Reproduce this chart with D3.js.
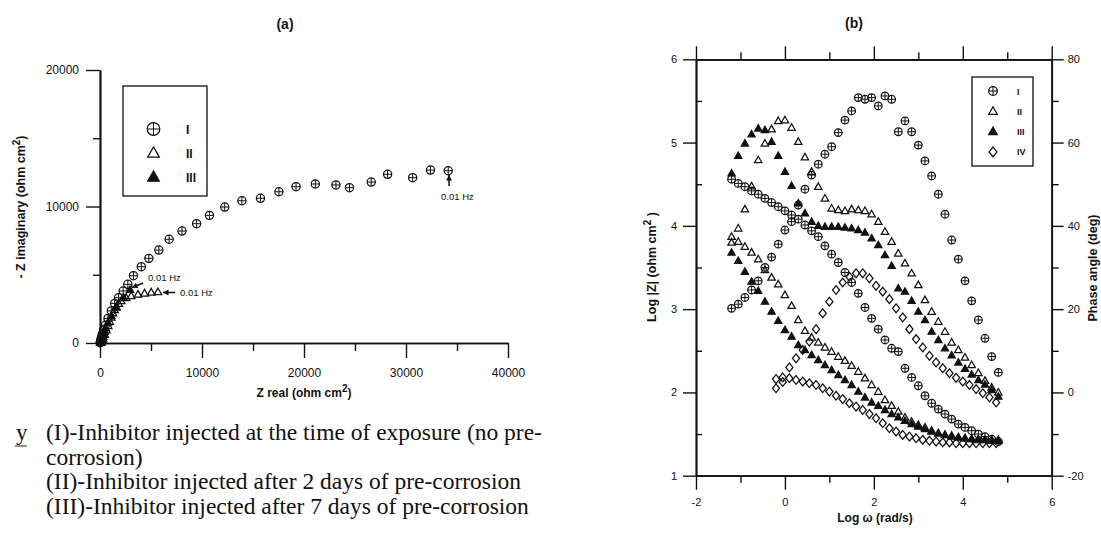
<!DOCTYPE html>
<html><head><meta charset="utf-8">
<script src="https://cdn.jsdelivr.net/npm/d3@7"></script>
<style>
body{margin:0;background:#fff}
svg{display:block}
text{fill:#111}
</style></head><body>
<svg id="c" width="1101" height="549" style="font-family:'Liberation Sans',Arial,sans-serif"></svg>
<script>
// ---------- Panel (a): Nyquist data [Z real, -Z imaginary] (ohm cm2) ----------
const nyqI = [[30,25],[40,60],[55,120],[80,210],[120,330],[170,480],[240,680],[350,950],[520,1300],[790,1800],[1110,2350],[1440,2900],[1820,3320],[2270,3810],[2730,4300],[3280,4930],[4050,5590],[4790,6200],[5770,6810],[6780,7600],[8040,8200],[9470,8740],[10730,9350],[12230,9960],[13910,10420],[15730,10600],[17540,11080],[19220,11450],[21110,11650],[23130,11580],[24460,11380],[26590,11790],[28200,12360],[30650,12110],[32400,12670],[34140,12620]];
const nyqII = [[37,18],[45,30],[60,45],[80,70],[110,105],[150,150],[200,200],[290,340],[450,640],[620,950],[800,1260],[950,1560],[1100,1870],[1270,2180],[1430,2420],[1600,2660],[1840,2880],[2080,3080],[2570,3300],[3060,3450],[3720,3560],[4370,3640],[5020,3710],[5680,3740]];
const nyqIII = [[36,12],[45,22],[60,45],[95,75],[125,100],[165,135],[210,185],[260,270],[330,450],[380,600],[450,820],[560,1100],[780,1500],[1100,2000],[1600,2600],[2300,3350],[2950,3900]];
const nyqXTicks = [0,10000,20000,30000,40000];
const nyqXMinor = [5000,15000,25000,35000];
const nyqYTicks = [0,10000,20000];
const nyqYMinor = [5000,15000];
const nyqLegend = ["I","II","III"];

// ---------- Panel (b): Bode data ----------
const logW = [-1.2,-1.05,-0.9,-0.75,-0.6,-0.45,-0.3,-0.15,0,0.15,0.3,0.45,0.6,0.75,0.9,1.05,1.2,1.35,1.5,1.65,1.8,1.95,2.1,2.25,2.4,2.55,2.7,2.85,3.0,3.15,3.3,3.45,3.6,3.75,3.9,4.05,4.2,4.35,4.5,4.65,4.8];
const logZ_I = [4.56,4.51,4.47,4.42,4.38,4.33,4.28,4.23,4.18,4.13,4.08,4.01,3.94,3.87,3.76,3.66,3.56,3.44,3.32,3.19,3.02,2.89,2.76,2.63,2.53,2.49,2.29,2.18,2.08,1.96,1.87,1.80,1.74,1.68,1.62,1.58,1.54,1.50,1.47,1.44,1.41];
const phase_I = [20.2,21.2,22.8,24.6,26.8,30.0,32.5,35.6,39.0,41.0,45.0,48.8,52.2,54.8,57.2,59.0,62.4,65.4,67.6,70.8,70.4,70.8,68.8,71.2,70.4,62.6,65.2,62.6,59.4,55.6,52.0,47.6,42.8,36.6,32.0,26.8,22.0,17.4,13.0,8.6,4.8];
const logZ_II = [3.87,3.81,3.75,3.68,3.60,3.47,3.38,3.30,3.17,3.04,2.87,2.74,2.66,2.60,2.54,2.49,2.43,2.38,2.32,2.25,2.17,2.09,2.01,1.91,1.84,1.77,1.70,1.65,1.61,1.58,1.54,1.51,1.49,1.48,1.46,1.45,1.44,1.43,1.43,1.42,1.42];
const phase_II = [36.0,39.4,44.0,49.5,55.8,59.8,63.2,65.2,65.4,63.6,60.2,56.5,53.0,49.4,46.6,44.2,43.8,43.6,44.0,43.8,43.6,42.8,41.0,38.6,36.2,33.4,31.0,28.6,25.8,22.2,19.4,17.0,14.6,12.0,10.2,8.4,6.6,4.7,2.8,1.2,0.0];
const logZ_III = [3.68,3.58,3.45,3.33,3.22,3.09,2.97,2.86,2.75,2.67,2.57,2.51,2.45,2.39,2.33,2.27,2.21,2.15,2.09,2.01,1.94,1.88,1.84,1.79,1.74,1.70,1.66,1.62,1.59,1.56,1.53,1.51,1.49,1.47,1.46,1.45,1.44,1.44,1.43,1.43,1.43];
const phase_III = [52.6,56.8,59.8,62.0,63.4,63.0,60.2,56.8,53.0,49.6,45.4,43.0,41.0,40.0,39.8,39.8,39.8,39.6,39.4,39.0,38.4,37.0,35.4,33.0,30.4,25.0,24.2,22.0,19.4,17.4,14.6,12.6,10.6,8.9,7.2,5.7,4.3,3.0,1.9,0.6,-1.0];
const logW_IV = [-0.2,-0.05,0.1,0.25,0.4,0.55,0.7,0.85,1.0,1.15,1.3,1.45,1.6,1.75,1.9,2.05,2.2,2.35,2.5,2.65,2.8,2.95,3.1,3.25,3.4,3.55,3.7,3.85,4.0,4.15,4.3,4.45,4.6,4.75];
const logZ_IV = [2.16,2.18,2.17,2.15,2.13,2.11,2.09,2.05,2.01,1.96,1.92,1.87,1.83,1.79,1.74,1.69,1.63,1.57,1.53,1.49,1.47,1.45,1.43,1.42,1.41,1.40,1.40,1.39,1.39,1.39,1.39,1.39,1.39,1.39];
const phase_IV = [1.0,2.5,6.0,8.2,10.2,12.2,15.2,19.0,21.8,24.6,26.4,27.8,28.6,28.6,27.4,25.6,24.2,22.4,20.2,18.0,15.2,12.8,10.8,8.8,7.2,5.8,4.6,3.5,2.6,1.8,0.8,-0.2,-1.2,-2.4];
const bodeXTicks = [-2,0,2,4,6];
const bodeXMinor = [-1,1,3,5];
const bodeZTicks = [1,2,3,4,5,6];
const bodeZMinor = [1.5,2.5,3.5,4.5,5.5];
const bodePTicks = [-20,0,20,40,60,80];
const bodePMinor = [-10,10,30,50,70];
const bodeLegend = ["I","II","III","IV"];

const keyLines = [
  "(I)-Inhibitor injected at the time of exposure (no pre-",
  "corrosion)",
  "(II)-Inhibitor injected after 2 days of pre-corrosion",
  "(III)-Inhibitor injected after 7 days of pre-corrosion"
];

const svg = d3.select("#c");
const INK = "#111";
const SANS = "'Liberation Sans', Arial, sans-serif";
const SERIF = "'Liberation Serif', 'Times New Roman', serif";

// ---------- marker helper ----------
function marker(sel, type, r){
  sel.each(function(){
    const g = d3.select(this);
    if(type==="cplus"){
      g.append("circle").attr("r",r).attr("fill","none").attr("stroke",INK).attr("stroke-width",1.25);
      g.append("line").attr("x1",-r).attr("x2",r).attr("stroke",INK).attr("stroke-width",1);
      g.append("line").attr("y1",-r).attr("y2",r).attr("stroke",INK).attr("stroke-width",1);
    } else if(type==="tri"||type==="trif"){
      const h=r*1.05;
      g.append("path").attr("d",`M0,${-h}L${r},${r*0.72}L${-r},${r*0.72}Z`)
        .attr("fill",type==="trif"?INK:"none").attr("stroke",INK).attr("stroke-width",1.25).attr("stroke-linejoin","miter");
    } else if(type==="dia"){
      g.append("path").attr("d",`M0,${-r*1.12}L${r*0.92},0L0,${r*1.12}L${-r*0.92},0Z`)
        .attr("fill","none").attr("stroke",INK).attr("stroke-width",1.25);
    }
  });
}
function series(g, xs, ys, sx, sy, type, r){
  const pts = xs.map((x,i)=>({x, y: ys[i]}));
  g.append("g").selectAll("g").data(pts).join("g")
    .attr("transform",d=>`translate(${sx(d.x)},${sy(d.y)})`)
    .call(marker,type,r);
}
function styleAxis(g, fs){
  g.select(".domain").attr("stroke",INK).attr("stroke-width",1.7);
  g.selectAll(".tick line").attr("stroke",INK).attr("stroke-width",1.4);
  g.selectAll(".tick text").attr("fill",INK).style("font-size",fs+"px").style("font-family",SANS);
}

// ================= Panel (a) =================
const xA = d3.scaleLinear().domain([0,40000]).range([100,508]);
const yA = d3.scaleLinear().domain([0,20000]).range([343,70]);
const gA = svg.append("g");

gA.append("g").attr("transform",`translate(0,${yA(0)})`)
  .call(d3.axisBottom(xA).tickValues(nyqXMinor).tickSize(8).tickFormat("").tickSizeOuter(0))
  .call(g=>styleAxis(g,12));
gA.append("g").attr("transform",`translate(0,${yA(0)})`)
  .call(d3.axisBottom(xA).tickValues(nyqXTicks).tickSize(15).tickPadding(10).tickFormat(d3.format("d")).tickSizeOuter(0))
  .call(g=>styleAxis(g,12));
gA.append("g").attr("transform",`translate(${xA(0)},0)`)
  .call(d3.axisLeft(yA).tickValues(nyqYMinor).tickSize(7).tickFormat("").tickSizeOuter(0))
  .call(g=>styleAxis(g,12));
gA.append("g").attr("transform",`translate(${xA(0)},0)`)
  .call(d3.axisLeft(yA).tickValues(nyqYTicks).tickSize(14).tickPadding(7).tickFormat(d3.format("d")).tickSizeOuter(0))
  .call(g=>styleAxis(g,12));

// data (III under II under I)
const nA = (arr,i)=>arr.map(p=>p[i]);
series(gA, nA(nyqIII,0), nA(nyqIII,1), xA, yA, "trif", 3.6);
series(gA, nA(nyqII,0), nA(nyqII,1), xA, yA, "tri", 3.8);
series(gA, nA(nyqI,0), nA(nyqI,1), xA, yA, "cplus", 4.1);

// legend (a)
gA.append("rect").attr("x",123).attr("y",86).attr("width",84).attr("height",110)
  .attr("fill","none").attr("stroke",INK).attr("stroke-width",1.3);
const legTypesA = ["cplus","tri","trif"];
nyqLegend.forEach((lab,i)=>{
  const y = 129 + i*24;
  gA.append("g").attr("transform",`translate(153.5,${y})`).call(marker,legTypesA[i],i===0?6.3:5.8);
  gA.append("text").attr("x",186).attr("y",y+4.5).style("font-size","12px").attr("font-weight","bold")
    .style("font-family","'Liberation Sans Narrow','Liberation Sans',sans-serif").text(lab);
});

// annotations "0.01 Hz"
function arrow(g,x1,y1,x2,y2){
  g.append("line").attr("x1",x1).attr("y1",y1).attr("x2",x2).attr("y2",y2).attr("stroke",INK).attr("stroke-width",1.5);
  const a=Math.atan2(y2-y1,x2-x1), L=5.5, W=3;
  const p=[[x2,y2],[x2-L*Math.cos(a)+W*Math.sin(a), y2-L*Math.sin(a)-W*Math.cos(a)],[x2-L*Math.cos(a)-W*Math.sin(a), y2-L*Math.sin(a)+W*Math.cos(a)]];
  g.append("path").attr("d","M"+p.join("L")+"Z").attr("fill",INK);
}
arrow(gA, 449, 186, 449, 175);
gA.append("text").attr("x",441).attr("y",200).style("font-size","9.5px").text("0.01 Hz");
arrow(gA, 143, 283, 132, 287.5);
gA.append("text").attr("x",148).attr("y",281).style("font-size","9.5px").text("0.01 Hz");
arrow(gA, 175, 292.5, 163, 292.5);
gA.append("text").attr("x",180).attr("y",296).style("font-size","9.5px").text("0.01 Hz");

// titles (a)
gA.append("text").attr("x",285).attr("y",29).attr("text-anchor","middle").style("font-size","14px").attr("font-weight","bold").text("(a)");
const xtA = gA.append("text").attr("x",304).attr("y",397).attr("text-anchor","middle").style("font-size","12px").attr("font-weight","bold");
xtA.append("tspan").text("Z real (ohm cm");
xtA.append("tspan").attr("dy",-5).style("font-size","10px").text("2");
xtA.append("tspan").attr("dy",5).text(")");
const ytA = gA.append("text").attr("transform","translate(25,207) rotate(-90)").attr("text-anchor","middle").style("font-size","12.5px").attr("font-weight","bold");
ytA.append("tspan").text("- Z imaginary (ohm cm");
ytA.append("tspan").attr("dy",-5).style("font-size","10px").text("2");
ytA.append("tspan").attr("dy",5).text(")");

// key text
const key = svg.append("g").style("font-family",SERIF);
key.append("text").attr("x",16).attr("y",440).style("font-size","23px").attr("fill","#222").text("y");
key.append("line").attr("x1",15).attr("x2",27).attr("y1",446).attr("y2",446).attr("stroke","#222").attr("stroke-width",1);
keyLines.forEach((t,i)=>{
  key.append("text").attr("x",46).attr("y",440+i*24.5)
    .style("font-size","23.5px").attr("fill","#222").text(t);
});

// ================= Panel (b) =================
const xB = d3.scaleLinear().domain([-2,6]).range([696,1051.7]);
const yZ = d3.scaleLinear().domain([1,6]).range([475.7,59.3]);
const yP = d3.scaleLinear().domain([-20,80]).range([475.7,59.3]);
const gB = svg.append("g");

function axB(axis, tr, fs){ return gB.append("g").attr("transform",tr).call(axis).call(g=>styleAxis(g,fs)); }
axB(d3.axisBottom(xB).tickValues(bodeXMinor).tickSize(7).tickFormat("").tickSizeOuter(0), `translate(0,${yZ(1)})`, 11);
axB(d3.axisBottom(xB).tickValues(bodeXTicks).tickSize(14).tickPadding(9).tickFormat(d3.format("d")).tickSizeOuter(0), `translate(0,${yZ(1)})`, 11);
axB(d3.axisTop(xB).tickValues(bodeXMinor).tickSize(7).tickFormat("").tickSizeOuter(0), `translate(0,${yZ(6)})`, 11);
axB(d3.axisTop(xB).tickValues(bodeXTicks).tickSize(13).tickFormat("").tickSizeOuter(0), `translate(0,${yZ(6)})`, 11);
axB(d3.axisRight(yZ).tickValues(bodeZMinor).tickSize(6).tickFormat("").tickSizeOuter(0), `translate(${xB(-2)},0)`, 11);
axB(d3.axisLeft(yZ).tickValues(bodeZTicks).tickSize(13).tickPadding(6).tickFormat(d3.format("d")).tickSizeOuter(0), `translate(${xB(-2)},0)`, 11);
axB(d3.axisRight(yP).tickValues(bodePMinor).tickSize(7).tickFormat("").tickSizeOuter(0), `translate(${xB(6)},0)`, 11);
axB(d3.axisRight(yP).tickValues(bodePTicks).tickSize(12).tickPadding(4).tickFormat(d3.format("d")).tickSizeOuter(0), `translate(${xB(6)},0)`, 11);
gB.selectAll(".tick text").text(function(){return this.textContent.replace("\u2212","-");});

// series
series(gB, logW_IV, logZ_IV, xB, yZ, "dia", 3.9);
series(gB, logW_IV, phase_IV, xB, yP, "dia", 3.9);
series(gB, logW, logZ_III, xB, yZ, "trif", 3.6);
series(gB, logW, phase_III, xB, yP, "trif", 3.6);
series(gB, logW, logZ_II, xB, yZ, "tri", 3.7);
series(gB, logW, phase_II, xB, yP, "tri", 3.7);
series(gB, logW, logZ_I, xB, yZ, "cplus", 3.8);
series(gB, logW, phase_I, xB, yP, "cplus", 3.8);

// legend (b)
gB.append("rect").attr("x",972).attr("y",77).attr("width",61).attr("height",89)
  .attr("fill","#fff").attr("stroke",INK).attr("stroke-width",1.3);
const legTypesB = ["cplus","tri","trif","dia"];
bodeLegend.forEach((lab,i)=>{
  const y = 91 + i*20.3;
  gB.append("g").attr("transform",`translate(993,${y})`).call(marker,legTypesB[i],4.3);
  gB.append("text").attr("x",1017).attr("y",y+3.5).style("font-size","9px").attr("font-weight","bold")
    .style("font-family","'Liberation Sans Narrow','Liberation Sans',sans-serif").text(lab);
});

// titles (b)
gB.append("text").attr("x",854).attr("y",27.5).attr("text-anchor","middle").style("font-size","14px").attr("font-weight","bold").text("(b)");
gB.append("text").attr("x",875).attr("y",522).attr("text-anchor","middle").style("font-size","12px").attr("font-weight","bold").text("Log \u03C9  (rad/s)");
const ytB = gB.append("text").attr("transform","translate(656,267) rotate(-90)").attr("text-anchor","middle").style("font-size","12.5px").attr("font-weight","bold");
ytB.append("tspan").text("Log |Z| (ohm cm");
ytB.append("tspan").attr("dy",-5).style("font-size","10px").text("2");
ytB.append("tspan").attr("dy",5).text(" )");
gB.append("text").attr("transform","translate(1097,268) rotate(-90)").attr("text-anchor","middle").style("font-size","12.5px").attr("font-weight","bold").text("Phase angle (deg)");
</script>
</body></html>
